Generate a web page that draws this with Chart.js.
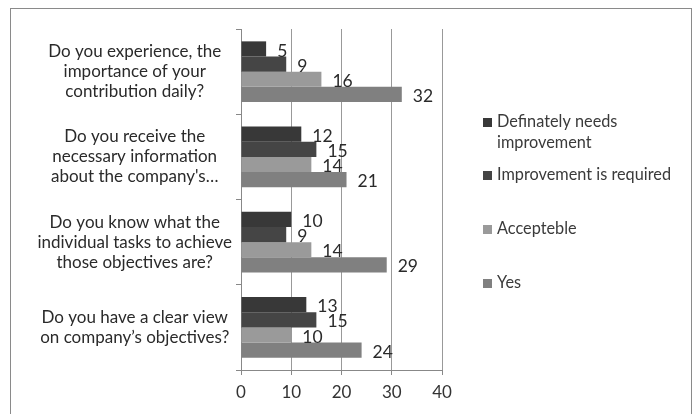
<!DOCTYPE html>
<html>
<head>
<meta charset="utf-8">
<script src="https://cdn.jsdelivr.net/npm/chart.js@4"></script>
<style>
  html, body { margin: 0; padding: 0; background: #fff; overflow: hidden; }
  #frame { position: absolute; left: 10px; top: 8px; width: 680px; height: 440px; border: 1px solid #8a8a8a; }
  #surveyChart { position: absolute; left: 0; top: 0; }
</style>
</head>
<body>
<div id="frame"></div>
<canvas id="surveyChart" width="695" height="414"></canvas>
<script>
'use strict';

const questions = [
  ['Do you experience, the', 'importance of your', 'contribution daily?'],
  ['Do you receive the', 'necessary information', 'about the company\'s…'],
  ['Do you know what the', 'individual tasks to achieve', 'those objectives are?'],
  ['Do you have a clear view', 'on company’s objectives?'],
];
const seriesNames = ['Definately needs improvement', 'Improvement is required', 'Accepteble', 'Yes'];
const needsImprovement = [5, 12, 10, 13];
const improvementRequired = [9, 15, 9, 15];
const acceptable = [16, 14, 14, 10];
const yes = [32, 21, 29, 24];
const xTicks = [0, 10, 20, 30, 40];

const colors = ['#383838', '#454545', '#9a9a9a', '#808080'];
const FONT = 'Lato, "Liberation Sans", sans-serif';

const ctx = document.getElementById('surveyChart').getContext('2d');

// legend is drawn by hand: the first entry wraps on two lines
const sideLegend = {
  id: 'sideLegend',
  afterDraw(chart) {
    const c = chart.ctx;
    const x = chart.chartArea.right + 41;
    const rows = [[122, 'Definately needs', 'improvement'], [175, 'Improvement is required'], [229, 'Accepteble'], [283, 'Yes']];
    c.save();
    c.font = '16.3px ' + FONT;
    c.textBaseline = 'middle';
    c.textAlign = 'left';
    rows.forEach((row, i) => {
      c.fillStyle = colors[i];
      c.fillRect(x, row[0] - 4, 9, 9);
      c.fillStyle = '#3a3a3a';
      row.slice(1).forEach((line, j) => {
        c.fillText(line, x + 14, row[0] + j * 21);
      });
    });
    c.restore();
  },
};

const valueLabels = {
  id: 'valueLabels',
  afterDatasetsDraw(chart) {
    const c = chart.ctx;
    c.save();
    c.font = '17.5px ' + FONT;
    c.fillStyle = '#2a2a2a';
    c.textBaseline = 'middle';
    c.textAlign = 'left';
    chart.data.datasets.forEach((ds, i) => {
      chart.getDatasetMeta(i).data.forEach((bar, j) => {
        c.fillText(String(ds.data[j]), bar.x + 11, bar.y + 2);
      });
    });
    c.restore();
  },
};

const allSeries = [needsImprovement, improvementRequired, acceptable, yes];

new Chart(ctx, {
  type: 'bar',
  data: {
    labels: questions,
    datasets: allSeries.map((values, i) => ({
      label: seriesNames[i],
      data: values,
      backgroundColor: colors[i],
      borderWidth: 0,
      categoryPercentage: 0.71,
      barPercentage: 1.0,
    })),
  },
  options: {
    indexAxis: 'y',
    responsive: false,
    animation: false,
    layout: { padding: { top: 29, right: 253, bottom: 0, left: 0 } },
    scales: {
      x: {
        min: xTicks[0],
        max: xTicks[xTicks.length - 1],
        afterFit: (scale) => { scale.height = 44; },
        afterBuildTicks: (scale) => { scale.ticks = xTicks.map((v) => ({ value: v })); },
        ticks: {
          color: '#333',
          font: { family: FONT, size: 17 },
          padding: 7,
        },
        grid: { color: '#999', tickLength: 5, tickColor: '#888' },
        border: { color: '#888' },
      },
      y: {
        afterFit: (scale) => { scale.width = 241; },
        ticks: {
          color: '#2a2a2a',
          crossAlign: 'center',
          font: { family: FONT, size: 17, lineHeight: 1.18 },
          padding: 4,
        },
        grid: { drawOnChartArea: false, tickLength: 5, tickColor: '#888', offset: true },
        border: { color: '#888' },
      },
    },
    plugins: {
      legend: { display: false },
      tooltip: { enabled: false },
    },
  },
  plugins: [valueLabels, sideLegend],
});
</script>
</body>
</html>
